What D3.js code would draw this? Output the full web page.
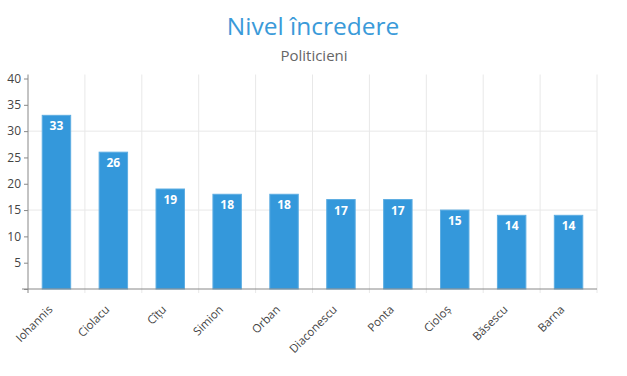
<!DOCTYPE html>
<html>
<head>
<meta charset="utf-8">
<script src="https://cdn.jsdelivr.net/npm/d3@7"></script>
<style>
  body { margin: 0; background: #fff; font-family: "Open Sans", sans-serif; }
  .title { fill: #3a9ad9; font-size: 24.5px; }
  .subtitle { fill: #666; font-size: 15px; }
  .bar-label { fill: #fff; font-size: 12px; font-weight: bold; }
</style>
</head>
<body>
<div id="chart"></div>
<script>
const names = ["Iohannis", "Ciolacu", "Cîțu", "Simion", "Orban", "Diaconescu", "Ponta", "Cioloș", "Băsescu", "Barna"];
const trust = [33, 26, 19, 18, 18, 17, 17, 15, 14, 14];
const yTicks = [0, 5, 10, 15, 20, 25, 30, 35, 40];
const gridValues = [15, 30];

const width = 627;
const height = 376;
const margin = { top: 78.5, right: 30, bottom: 87, left: 28 };
const innerW = width - margin.left - margin.right;
const innerH = height - margin.top - margin.bottom;

const svg = d3.select("#chart")
    .append("svg")
    .attr("width", width)
    .attr("height", height);

svg.append("text")
    .attr("class", "title")
    .attr("x", 313)
    .attr("y", 35)
    .attr("text-anchor", "middle")
    .text("Nivel încredere");

svg.append("text")
    .attr("class", "subtitle")
    .attr("x", 314)
    .attr("y", 61)
    .attr("text-anchor", "middle")
    .text("Politicieni");

const g = svg.append("g")
    .attr("transform", `translate(${margin.left}, ${margin.top})`);

const x = d3.scaleBand()
    .domain(names)
    .range([0, innerW])
    .paddingInner(0.5)
    .paddingOuter(0.25);

const y = d3.scaleLinear()
    .domain([0, 40])
    .range([innerH, 0]);

// vertical grid lines at band boundaries
const step = x.step();
g.selectAll(".vgrid")
    .data(names)
    .enter()
    .append("line")
    .attr("x1", d => x(d) - x.bandwidth() / 2 + step)
    .attr("x2", d => x(d) - x.bandwidth() / 2 + step)
    .attr("y1", -4)
    .attr("y2", innerH + 4)
    .attr("stroke", "#e8e8e8");

// horizontal grid lines
g.selectAll(".hgrid")
    .data(gridValues)
    .enter()
    .append("line")
    .attr("x1", 0)
    .attr("x2", innerW)
    .attr("y1", d => y(d))
    .attr("y2", d => y(d))
    .attr("stroke", "#e8e8e8");

g.selectAll(".bar")
    .data(trust)
    .enter()
    .append("rect")
    .attr("class", "bar")
    .attr("x", (d, i) => x(names[i]))
    .attr("y", d => y(d))
    .attr("width", x.bandwidth())
    .attr("height", d => innerH - y(d))
    .attr("fill", "#3498db")
    .attr("stroke", "#5dade2")
    .attr("stroke-width", 1);

g.selectAll(".bar-label")
    .data(trust)
    .enter()
    .append("text")
    .attr("class", "bar-label")
    .attr("x", (d, i) => x(names[i]) + x.bandwidth() / 2)
    .attr("y", d => y(d) + 15)
    .attr("text-anchor", "middle")
    .text(d => d);

// y axis
const yAxis = g.append("g")
    .call(d3.axisLeft(y).tickValues(yTicks).tickSize(4).tickFormat(d => d === 0 ? "" : d));
yAxis.select(".domain").attr("stroke", "#888").attr("d", `M0,-4V${innerH + 4}`);
yAxis.selectAll(".tick line").attr("stroke", "#888");
yAxis.selectAll("text")
    .attr("fill", "#444")
    .style("font-size", "12px")
    .style("font-family", "Open Sans, sans-serif");

// x axis
const xAxis = g.append("g")
    .attr("transform", `translate(0, ${innerH})`)
    .call(d3.axisBottom(x).tickSize(0));
xAxis.select(".domain").attr("stroke", "#888").attr("d", `M-6,0H${innerW}`);
xAxis.selectAll("text")
    .attr("fill", "#444")
    .style("font-size", "11.5px")
    .style("font-family", "Open Sans, sans-serif")
    .style("text-anchor", "end")
    .attr("dx", "-1.5em")
    .attr("dy", "0.85em")
    .attr("transform", "rotate(-45)");
</script>
</body>
</html>
